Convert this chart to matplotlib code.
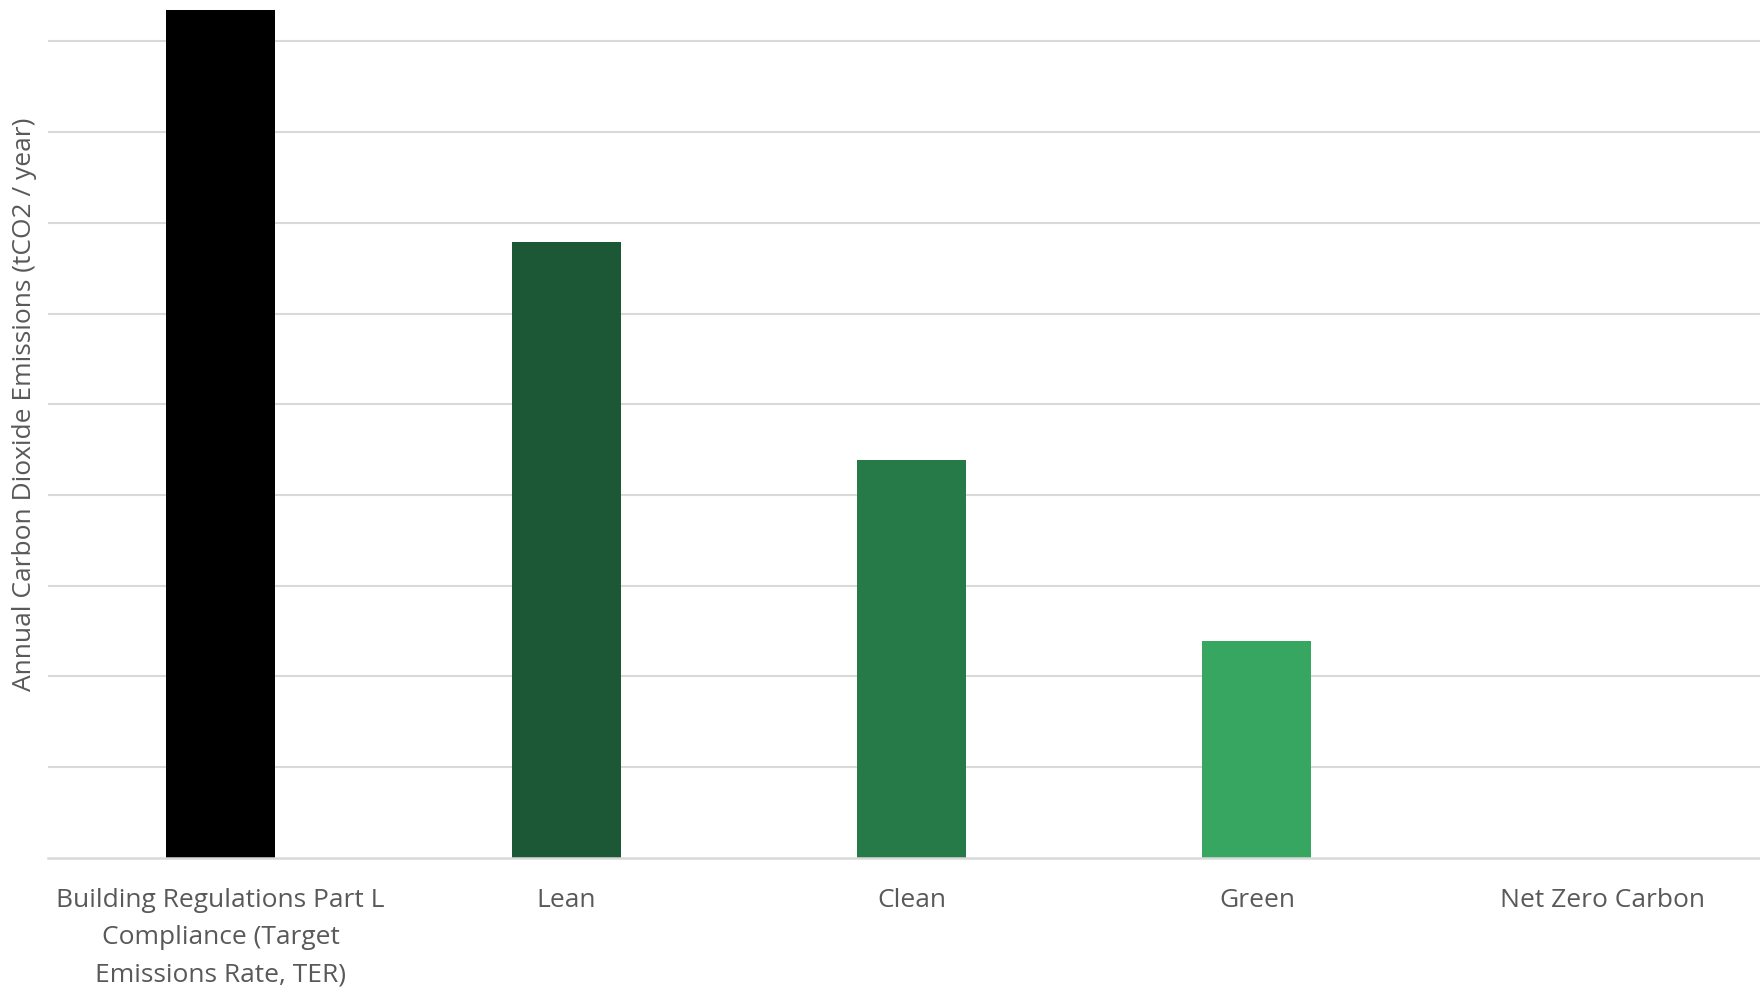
import matplotlib
matplotlib.use("Agg")
import matplotlib.pyplot as plt

categories = ["Building Regulations Part L\nCompliance (Target\nEmissions Rate, TER)",
              "Lean", "Clean", "Green", "Net Zero Carbon"]
values = [9.35, 6.79, 4.39, 2.39, 0.0]
colors = ["#000000", "#1d5836", "#267a48", "#37a660", "#37a660"]
grid_ticks = [1, 2, 3, 4, 5, 6, 7, 8, 9]
ylabel = "Annual Carbon Dioxide Emissions (tCO2 / year)"

plt.rcParams['font.family'] = ['Open Sans', 'DejaVu Sans']

W, H = 1760, 987
fig = plt.figure(figsize=(W / 100, H / 100 + 0.004), dpi=100)
left, right = 48, 1775
top, base = 10, 858
ax = fig.add_axes([left / W, 1 - base / H, (right - left) / W, (base - top) / H])

x = list(range(len(categories)))
ax.bar(x, values, width=0.315, color=colors, zorder=3)
ax.set_xlim(-0.5, len(categories) - 0.5)
ax.set_ylim(0, 9.35)
ax.set_yticks(grid_ticks)
ax.set_yticklabels([])
ax.tick_params(axis='y', length=0)
ax.grid(axis='y', color='#d9d9d9', linewidth=1.5, zorder=0)
ax.axhline(0, color='#d9d9d9', linewidth=1.8, zorder=4, clip_on=False)
for s in ax.spines.values():
    s.set_visible(False)

ax.set_xticks(x)
ax.set_xticklabels(categories, fontsize=19, color='#595959', linespacing=1.65)
ax.tick_params(axis='x', length=0, pad=21)

fig.text(25 / W, 1 - 404 / H, ylabel, rotation=90, ha='center', va='center',
         fontsize=19, color='#595959')

fig.savefig("out.png", dpi=100)
